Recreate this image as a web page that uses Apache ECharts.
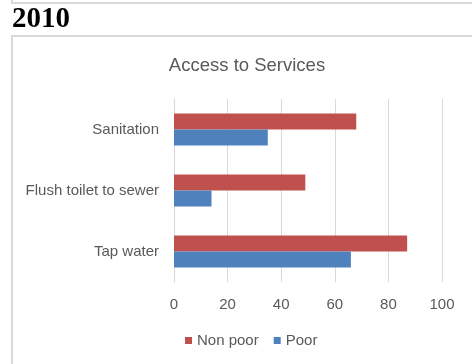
<!DOCTYPE html>
<html>
<head>
<meta charset="utf-8">
<script src="https://cdn.jsdelivr.net/npm/echarts@6/dist/echarts.min.js"></script>
<style>
  html, body { margin: 0; padding: 0; background: #fff; }
  #chart { width: 472px; height: 364px; }
</style>
</head>
<body>
<div id="chart"></div>
<script>
// Categories listed bottom-to-top as they appear on the vertical axis
const categories = ['Tap water', 'Flush toilet to sewer', 'Sanitation'];
const nonPoor = [87, 49, 68];
const poor = [66, 14, 35];
const xTicks = [0, 20, 40, 60, 80, 100];

const chart = echarts.init(document.getElementById('chart'));
const labelColor = '#595959';
const lineColor = '#d9d9d9';
const font = 'Liberation Sans';

chart.setOption({
  animation: false,
  backgroundColor: '#ffffff',
  textStyle: { fontFamily: font },
  title: {
    text: 'Access to Services',
    left: 242,
    textAlign: 'center',
    top: 51,
    textStyle: { color: labelColor, fontSize: 18.5, fontWeight: 'normal', fontFamily: font }
  },
  graphic: [
    // bottom edge of the panel above
    { type: 'polyline', shape: { points: [[12, -2], [12, 3], [474, 3]] },
      style: { stroke: lineColor, lineWidth: 2, fill: null }, silent: true },
    // year heading
    { type: 'text', left: 12, top: 5,
      style: { text: '2010', fill: '#000', font: 'bold 29px "Liberation Serif", "Times New Roman", serif' } },
    // chart panel frame
    { type: 'rect', shape: { x: 12, y: 36, width: 470, height: 340 },
      style: { stroke: lineColor, lineWidth: 2, fill: null }, silent: true }
  ],
  legend: {
    left: 180,
    top: 328,
    itemWidth: 7,
    itemHeight: 7,
    itemGap: 15,
    icon: 'rect',
    textStyle: { color: labelColor, fontSize: 15, fontFamily: font },
    data: ['Non poor', 'Poor']
  },
  grid: { left: 174, right: 30, top: 99, bottom: 82, containLabel: false },
  xAxis: {
    type: 'value',
    min: xTicks[0],
    max: xTicks[xTicks.length - 1],
    interval: xTicks[1] - xTicks[0],
    axisLine: { show: false },
    axisTick: { show: false },
    splitLine: { show: true, lineStyle: { color: lineColor, width: 1 } },
    axisLabel: { color: labelColor, fontSize: 15, margin: 15, fontFamily: font }
  },
  yAxis: {
    type: 'category',
    data: categories,
    axisLine: { show: true, lineStyle: { color: lineColor, width: 1 } },
    axisTick: { show: false },
    axisLabel: { color: labelColor, fontSize: 15, margin: 15, fontFamily: font }
  },
  series: [
    { name: 'Non poor', type: 'bar', data: nonPoor, barWidth: 16, barGap: '0%',
      itemStyle: { color: '#C0504D' } },
    { name: 'Poor', type: 'bar', data: poor, barWidth: 16, barGap: '0%',
      itemStyle: { color: '#4F81BD' } }
  ]
});
</script>
</body>
</html>
